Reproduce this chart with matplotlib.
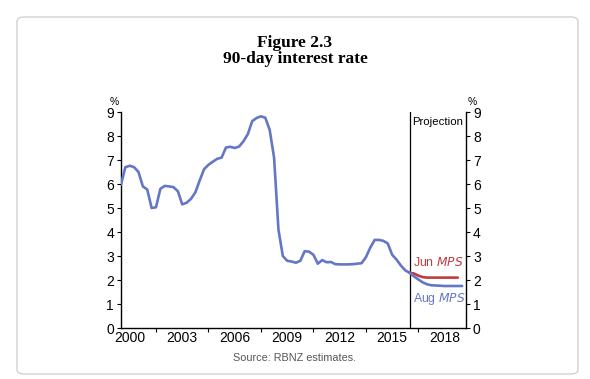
import numpy as np
import matplotlib
matplotlib.use("Agg")
import matplotlib.pyplot as plt
from matplotlib.patches import FancyBboxPatch

# ---- data (quarterly) ----
hist_start = 2000.0
hist_values = [5.98, 6.70, 6.76, 6.70, 6.50, 5.90, 5.77, 5.00, 5.03, 5.80,
               5.92, 5.90, 5.87, 5.70, 5.15, 5.22, 5.38, 5.65, 6.15, 6.62,
               6.80, 6.93, 7.05, 7.10, 7.52, 7.55, 7.50, 7.56, 7.78, 8.08,
               8.62, 8.75, 8.82, 8.76, 8.25, 7.10, 4.10, 3.00, 2.80, 2.77,
               2.72, 2.80, 3.20, 3.18, 3.05, 2.68, 2.83, 2.74, 2.75, 2.66,
               2.65, 2.65, 2.65, 2.66, 2.68, 2.70, 2.95, 3.35, 3.67, 3.67,
               3.63, 3.52, 3.05, 2.85, 2.60, 2.40, 2.30]
jun_values = [2.30, 2.27, 2.18, 2.12, 2.10, 2.10, 2.10, 2.10, 2.10, 2.10, 2.10, 2.10]
aug_values = [2.30, 2.15, 2.02, 1.90, 1.82, 1.78, 1.77, 1.76, 1.75, 1.75, 1.75, 1.75, 1.75]
projection_start = 2016.5
year_labels = ["2000", "2003", "2006", "2009", "2012", "2015", "2018"]
y_ticks = list(range(0, 10))

hist_x = hist_start + 0.25 * np.arange(len(hist_values))
jun_x = hist_x[-1] + 0.25 * np.arange(len(jun_values))
aug_x = hist_x[-1] + 0.25 * np.arange(len(aug_values))

BLUE = "#6477c6"
RED = "#c23b40"

plt.rcParams['font.family'] = ['Liberation Sans', 'DejaVu Sans']

fig = plt.figure(figsize=(5.9, 3.79), dpi=100)
fig.patch.set_facecolor("white")

# outer rounded border
border = FancyBboxPatch((17/590, 5/379), 561/590, 357/379,
                        boxstyle="round,pad=0,rounding_size=0.012",
                        transform=fig.transFigure, facecolor="none",
                        edgecolor="#d2d2d2", linewidth=1.0)
fig.patches.append(border)

ax = fig.add_axes([121/590, 1 - 328/379, (466 - 121)/590, (328 - 112)/379])
ax.plot(hist_x, hist_values, color=BLUE, lw=1.9, solid_capstyle="round", zorder=3)
ax.plot(jun_x, jun_values, color=RED, lw=1.9, solid_capstyle="round", zorder=3)
ax.plot(aug_x, aug_values, color=BLUE, lw=1.9, solid_capstyle="round", zorder=4)
ax.axvline(projection_start, color="black", lw=0.9, zorder=2)

ax.set_xlim(2000.0, 2019.72)
ax.set_ylim(0, 9)

ax.spines["top"].set_visible(False)
for s in ["left", "right", "bottom"]:
    ax.spines[s].set_linewidth(1.0)
    ax.spines[s].set_color("black")

# x ticks: marks at block boundaries, labels at block centres
label_pos = [int(y) + 0.5 for y in year_labels]
ax.set_xticks([int(y) + 2 for y in year_labels[:-1]])
ax.set_xticklabels([])
ax.tick_params(axis="x", which="major", length=3, width=0.8, direction="out")
ax.set_xticks(label_pos, minor=True)
ax.set_xticklabels(year_labels, minor=True, fontsize=10)
ax.tick_params(axis="x", which="minor", length=0, pad=2)

ax.set_yticks(y_ticks)
ax.set_yticklabels([str(v) for v in y_ticks], fontsize=10)
ax.tick_params(axis="y", length=3, width=0.8, direction="out", pad=2,
               right=True, labelright=True)

ax.text(-0.005, 1.025, "%", transform=ax.transAxes, ha="right", va="bottom", fontsize=7.5)
ax.text(1.005, 1.025, "%", transform=ax.transAxes, ha="left", va="bottom", fontsize=7.5)

ax.text(2016.62, 8.6, "Projection", ha="left", va="center", fontsize=8.2)
ax.text(2016.68, 2.72, "Jun $\\it{MPS}$", ha="left", va="center", fontsize=8.8, color=RED)
ax.text(2016.68, 1.22, "Aug $\\it{MPS}$", ha="left", va="center", fontsize=8.8, color=BLUE)

fig.text(0.5, 1 - 43/379, "Figure 2.3", ha="center", va="center",
         family=["Liberation Serif", "DejaVu Serif"], fontweight="bold", fontsize=12.5)
fig.text(0.5, 1 - 59/379, "90-day interest rate", ha="center", va="center",
         family=["Liberation Serif", "DejaVu Serif"], fontweight="bold", fontsize=12.5)

fig.text(295/590, 1 - 358/379, "Source: RBNZ estimates.", ha="center", va="center",
         fontsize=7.8, color="#555555")

fig.savefig("out.png", dpi=100)
